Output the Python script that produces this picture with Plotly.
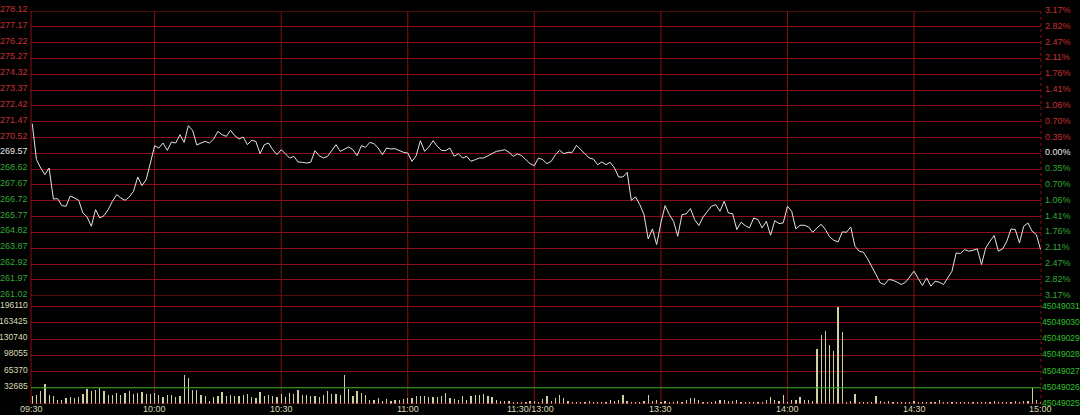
import plotly.graph_objects as go

# ---------------- data ----------------
minutes = list(range(1, 241))  # minute index after 09:30 (trading minutes)

price = [
    271.35, 269.19, 268.69, 268.29, 268.69, 266.83, 266.85, 266.43, 266.39, 267.01,
    266.89, 266.75, 265.99, 265.75, 265.19, 266.19, 265.69, 265.83, 266.19, 266.69,
    267.09, 266.89, 266.75, 266.95, 267.29, 268.15, 267.63, 267.99, 268.99, 270.03,
    269.89, 270.19, 269.75, 270.25, 270.19, 270.69, 270.23, 271.23, 270.95, 270.07,
    270.19, 270.29, 270.19, 270.43, 270.89, 270.69, 270.59, 270.95, 270.63, 270.43,
    270.55, 270.09, 270.35, 270.29, 269.55, 270.09, 270.19, 269.79, 269.49, 269.79,
    269.55, 269.29, 269.39, 269.05, 269.03, 268.99, 269.03, 269.73, 269.43, 269.29,
    269.39, 269.75, 270.09, 269.69, 269.83, 269.95, 269.79, 269.43, 270.03, 269.93,
    270.23, 270.15, 269.89, 269.49, 269.89, 269.83, 269.85, 269.75, 269.63, 269.59,
    269.09, 269.43, 270.33, 269.69, 269.95, 270.33, 269.99, 269.75, 269.73, 269.89,
    269.39, 269.55, 269.29, 269.39, 269.09, 269.19, 269.29, 269.29, 269.43, 269.59,
    269.69, 269.73, 269.79, 269.63, 269.39, 269.53, 269.43, 269.19, 268.95, 268.83,
    269.29, 269.19, 268.95, 269.09, 269.49, 269.75, 269.55, 269.63, 269.63, 270.05,
    269.79, 269.55, 269.29, 269.23, 268.89, 269.05, 268.89, 269.03, 268.69, 268.15,
    268.15, 268.43, 266.75, 266.95, 266.49, 265.89, 264.43, 265.03, 264.09, 265.39,
    266.43, 265.89, 265.49, 264.59, 265.89, 265.93, 266.25, 265.59, 265.23, 265.75,
    266.09, 266.39, 266.49, 266.09, 266.69, 265.99, 265.95, 264.99, 265.43, 265.23,
    265.09, 265.69, 265.59, 265.09, 265.49, 264.65, 265.53, 265.35, 265.39, 266.39,
    266.09, 265.03, 265.25, 265.25, 265.15, 264.83, 265.09, 265.31, 264.99, 264.55,
    264.35, 264.25, 264.85, 264.83, 265.15, 263.99, 263.69, 263.63, 263.23, 262.79,
    262.29, 261.79, 261.69, 261.99, 261.95, 261.83, 261.69, 261.83, 262.13, 262.49,
    262.05, 261.63, 262.09, 261.59, 261.89, 261.83, 261.69, 262.09, 262.49, 263.59,
    263.55, 263.79, 263.69, 263.75, 263.83, 262.89, 263.89, 264.29, 264.63, 263.69,
    263.83, 264.29, 265.03, 264.99, 264.19, 265.19, 265.39, 264.89, 264.69, 263.79,
]

volume = [
    15600, 19000, 26000, 39500, 17700, 17000, 8900, 8900, 12300, 14300,
    12300, 14300, 21000, 30600, 25900, 27200, 32700, 25900, 19000, 17700,
    22500, 19000, 22500, 25900, 21000, 22500, 23800, 21000, 21000, 22500,
    19000, 14300, 19000, 19000, 14300, 17000, 57900, 53000, 27200, 27900,
    19000, 15600, 6800, 14300, 15600, 23800, 17000, 19000, 17000, 15600,
    19000, 21000, 14300, 12300, 23800, 15600, 19000, 15600, 14300, 21000,
    14300, 22500, 21000, 27900, 19000, 17700, 17000, 17000, 14300, 19000,
    25900, 21000, 21000, 19000, 57900, 30600, 17000, 25900, 22500, 19000,
    7500, 7500, 12300, 5400, 10200, 5400, 8900, 8900, 10200, 12300,
    12300, 17000, 17000, 15600, 14300, 14300, 14300, 17000, 22500, 12300,
    10200, 7500, 17000, 7500, 15600, 17700, 19000, 20400, 15600, 14300,
    8900, 6800, 5400, 5400, 4100, 4100, 4100, 4100, 5400, 6800,
    4800, 10200, 15600, 5400, 11600, 17700, 12900, 5400, 4100, 4100,
    4100, 4800, 5400, 4800, 4800, 4800, 4800, 8900, 6100, 8900,
    17700, 5400, 4800, 4100, 4100, 5400, 17700, 6800, 8900, 4100,
    5400, 4100, 4800, 5400, 4100, 7500, 11600, 11600, 7500, 4100,
    4100, 4100, 5400, 7500, 7500, 6800, 5400, 8900, 4100, 4100,
    4100, 4800, 4800, 4100, 8900, 13600, 7500, 5400, 17700, 4100,
    7500, 8900, 14300, 8900, 7500, 6800, 111000, 138000, 147000, 119000,
    106000, 196000, 146000, 4100, 5400, 21000, 4800, 4800, 4800, 4800,
    17000, 5400, 4800, 6800, 4100, 4100, 4800, 4100, 4800, 5400,
    4100, 4100, 4100, 4800, 4800, 7500, 4800, 4100, 4100, 4800,
    4100, 4100, 4800, 4800, 4100, 4800, 4800, 4100, 6800, 4100,
    4800, 4800, 4100, 5400, 4800, 5400, 6100, 32700, 7500, 4100,
]

prev_close = 269.57
price_ticks = [278.12, 277.17, 276.22, 275.27, 274.32, 273.37, 272.42, 271.47, 270.52,
               269.57, 268.62, 267.67, 266.72, 265.77, 264.82, 263.87, 262.92, 261.97, 261.02]
pct_labels = ["3.17%", "2.82%", "2.47%", "2.11%", "1.76%", "1.41%", "1.06%", "0.70%", "0.35%",
              "0.00%", "0.35%", "0.70%", "1.06%", "1.41%", "1.76%", "2.11%", "2.47%", "2.82%", "3.17%"]
vol_ticks = [196110, 163425, 130740, 98055, 65370, 32685]
vol_right_labels = ["45049031", "45049030", "45049029", "45049028", "45049027", "45049026", "45049025"]
vol_right_ticks = [196110, 163425, 130740, 98055, 65370, 32685, 0]
vol_avg_level = 32685
time_ticks = [0.7, 30, 60, 90, 120, 150, 180, 210, 240]
time_labels = ["09:30", "10:00", "10:30", "11:00", "11:30/13:00", "13:30", "14:00", "14:30", "15:00"]
grid_minutes = [30, 60, 90, 120, 150, 180, 210]

# ---------------- style ----------------
BG = "#000000"
GRID = "#8a1016"
RED_T = "#c83232"
GREEN_T = "#34a834"
WHITE_T = "#e6e6e6"
VOL_T = "#dcdcb4"
VOL_R = "#2ec02e"
LINE_C = "#e4e4e4"
BAR_C = "#cfcfa0"
FONT = "Liberation Sans"
FS = 9

split = 0.2756  # fraction of plot height used by volume pane
xr = [0.7, 240.1]

fig = go.Figure()
fig.add_trace(go.Scatter(x=minutes, y=price, mode="lines",
                         line=dict(color=LINE_C, width=1), xaxis="x", yaxis="y",
                         hoverinfo="skip", showlegend=False))
fig.add_trace(go.Bar(x=minutes, y=volume, width=0.3, marker=dict(color=BAR_C, line=dict(width=0)),
                     xaxis="x2", yaxis="y2", hoverinfo="skip", showlegend=False))

axis_common = dict(showline=False, zeroline=False, showticklabels=False, ticks="",
                   gridcolor=GRID, gridwidth=1, fixedrange=True)

fig.update_layout(
    width=1080, height=415, autosize=False,
    paper_bgcolor=BG, plot_bgcolor=BG,
    margin=dict(l=31, r=39, t=11, b=11, pad=0),
    showlegend=False,
    bargap=0,
    xaxis=dict(domain=[0, 1], range=xr, anchor="y", showgrid=False, **axis_common),
    xaxis2=dict(domain=[0, 1], range=xr, anchor="y2", matches="x", showgrid=False, **axis_common),
    yaxis=dict(domain=[split, 1], range=[price_ticks[-1], price_ticks[0]], anchor="x",
               tickvals=price_ticks, showgrid=True, **axis_common),
    yaxis2=dict(domain=[0, split], range=[0, 218210], anchor="x2",
                tickvals=[0] + vol_ticks, showgrid=True, **axis_common),
)

shapes = []
# vertical grid lines (half-hour marks) across both panes
for m in grid_minutes:
    shapes.append(dict(type="line", xref="x", yref="paper", x0=m, x1=m, y0=0, y1=1,
                       line=dict(color=GRID, width=1), layer="below"))
# borders
shapes.append(dict(type="line", xref="paper", yref="paper", x0=0, x1=0, y0=0, y1=1,
                   line=dict(color=GRID, width=1)))
shapes.append(dict(type="line", xref="paper", yref="paper", x0=1, x1=1, y0=0, y1=1,
                   line=dict(color=GRID, width=1, dash="dot")))
shapes.append(dict(type="line", xref="paper", yref="y", x0=0, x1=1, y0=price_ticks[0], y1=price_ticks[0],
                   line=dict(color=GRID, width=1)))
shapes.append(dict(type="line", xref="paper", yref="y", x0=0, x1=1, y0=price_ticks[-1], y1=price_ticks[-1],
                   line=dict(color=GRID, width=1)))
shapes.append(dict(type="line", xref="paper", yref="y2", x0=0, x1=1, y0=0, y1=0,
                   line=dict(color=GRID, width=1)))
# volume average line
shapes.append(dict(type="line", xref="paper", yref="y2", x0=0, x1=1, y0=vol_avg_level, y1=vol_avg_level,
                   line=dict(color="#1fb01f", width=1), layer="above"))
fig.update_layout(shapes=shapes)

ann = []
for v, p in zip(price_ticks, pct_labels):
    if abs(v - prev_close) < 1e-6:
        c = WHITE_T
    elif v > prev_close:
        c = RED_T
    else:
        c = GREEN_T
    ann.append(dict(xref="paper", yref="y", x=0, y=v, text=f"{v:.2f}", showarrow=False,
                    xanchor="right", yanchor="middle", xshift=-1, yshift=2,
                    font=dict(family=FONT, size=FS, color=c)))
    ann.append(dict(xref="paper", yref="y", x=1, y=v, text=p, showarrow=False,
                    xanchor="left", yanchor="middle", xshift=2, yshift=1,
                    font=dict(family=FONT, size=FS, color=c)))
for v in vol_ticks:
    ann.append(dict(xref="paper", yref="y2", x=0, y=v, text=str(v), showarrow=False,
                    xanchor="right", yanchor="middle", xshift=-1, yshift=2,
                    font=dict(family=FONT, size=8.5, color=VOL_T)))
for v, t in zip(vol_right_ticks, vol_right_labels):
    ann.append(dict(xref="paper", yref="y2", x=1, y=v, text=t, showarrow=False,
                    xanchor="left", yanchor="middle", xshift=-1, yshift=1,
                    font=dict(family=FONT, size=8.5, color=VOL_R)))
for m, t in zip(time_ticks, time_labels):
    ann.append(dict(xref="x2", yref="paper", x=m, y=0, text=t, showarrow=False,
                    xanchor="center", yanchor="middle", yshift=-5,
                    xshift=(-4 if "/" in t else 0),
                    font=dict(family=FONT, size=FS, color=VOL_T)))
fig.update_layout(annotations=ann)

fig.write_html("out.html", config={"displayModeBar": False, "staticPlot": True},
               post_script="document.body.style.margin='0';document.body.style.background='#000';")
